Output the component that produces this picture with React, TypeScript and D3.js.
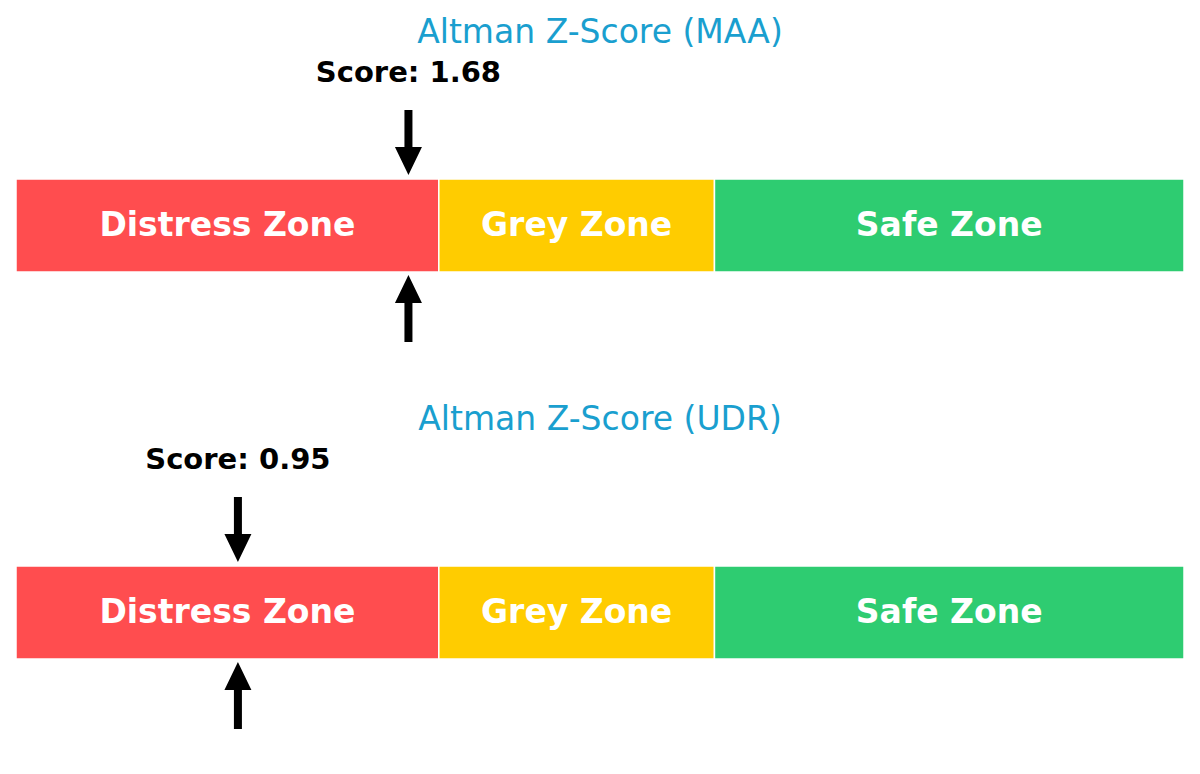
import React, { useEffect, useRef } from 'react';
import * as d3 from 'd3';

const companies = ['MAA', 'UDR'];
const scores = [1.68, 0.95];
const zoneLabels = ['Distress Zone', 'Grey Zone', 'Safe Zone'];
const zoneBounds = [0, 1.81, 2.99, 5];
const zoneColors = ['#ff4d4f', '#ffcc00', '#2ecc71'];

const WIDTH = 1200;
const HEIGHT = 774;
const PANEL_H = 387;

const App: React.FC = () => {
  const svgRef = useRef<SVGSVGElement>(null);

  useEffect(() => {
    if (!svgRef.current) return;
    const svg = d3.select(svgRef.current);
    svg.selectAll('*').remove();

    const x = d3.scaleLinear().domain([0, 5]).range([16, 1184]);
    const barTop = 179;
    const barH = 93;

    const panels = svg.selectAll('g.panel')
      .data(companies.map((c, i) => ({ name: c, score: scores[i] })))
      .join('g')
      .attr('class', 'panel')
      .attr('transform', (d, i) => `translate(0,${i * PANEL_H})`);

    // title
    panels.append('text')
      .attr('x', WIDTH / 2)
      .attr('y', 43)
      .attr('text-anchor', 'middle')
      .attr('font-size', 33)
      .attr('fill', '#1a9fcf')
      .text(d => `Altman Z-Score (${d.name})`);

    // zones
    const zones = zoneLabels.map((label, i) => ({
      label, x0: zoneBounds[i], x1: zoneBounds[i + 1], color: zoneColors[i]
    }));

    panels.each(function (p) {
      const g = d3.select(this);
      g.selectAll('rect.zone')
        .data(zones)
        .join('rect')
        .attr('class', 'zone')
        .attr('x', z => x(z.x0))
        .attr('y', barTop)
        .attr('width', z => x(z.x1) - x(z.x0))
        .attr('height', barH)
        .attr('fill', z => z.color)
        .attr('stroke', '#fff')
        .attr('stroke-width', 1.5);

      g.selectAll('text.zone')
        .data(zones)
        .join('text')
        .attr('class', 'zone')
        .attr('x', z => (x(z.x0) + x(z.x1)) / 2)
        .attr('y', barTop + barH / 2 + 10)
        .attr('text-anchor', 'middle')
        .attr('font-size', 33)
        .attr('font-weight', 'bold')
        .attr('fill', '#fff')
        .text(z => z.label);

      const sx = x(p.score);

      // score label
      g.append('text')
        .attr('x', sx)
        .attr('y', barTop - 97)
        .attr('text-anchor', 'middle')
        .attr('font-size', 29)
        .attr('font-weight', 'bold')
        .attr('fill', '#000')
        .text(`Score: ${p.score.toFixed(2)}`);

      // arrows
      const arrow = (tail: number, tip: number) => {
        const dir = tip > tail ? 1 : -1;
        const headLen = 28;
        const headW = 13.5;
        const shaftW = 4;
        const base = tip - dir * headLen;
        const path = d3.path();
        path.moveTo(sx - shaftW, tail);
        path.lineTo(sx - shaftW, base);
        path.lineTo(sx - headW, base);
        path.lineTo(sx, tip);
        path.lineTo(sx + headW, base);
        path.lineTo(sx + shaftW, base);
        path.lineTo(sx + shaftW, tail);
        path.closePath();
        g.append('path').attr('d', path.toString()).attr('fill', '#000');
      };
      arrow(barTop - 69, barTop - 4);
      arrow(barTop + barH + 70, barTop + barH + 3);
    });
  }, []);

  return (
    <svg
      ref={svgRef}
      width={WIDTH}
      height={HEIGHT}
      style={{ position: 'absolute', left: 0, top: 0, background: '#fff', fontFamily: '"DejaVu Sans", sans-serif' }}
    />
  );
};

export default App;
